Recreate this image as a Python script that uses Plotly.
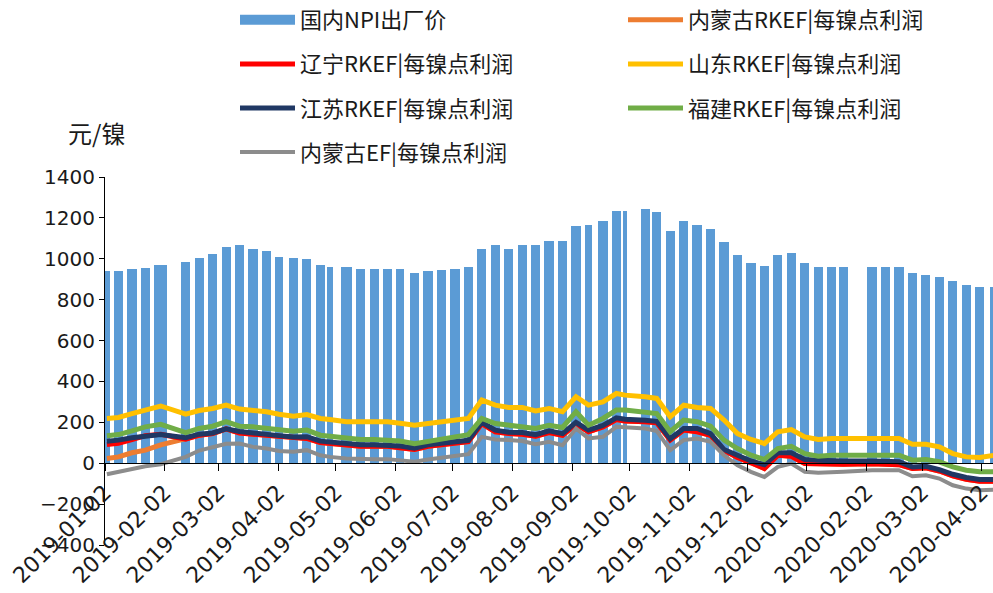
import pandas as pd
import plotly.graph_objects as go

# ---- data (weekly trading blocks) ----
block_start = [
    "2019-01-02", "2019-01-07", "2019-01-14", "2019-01-21", "2019-01-28", "2019-02-11", "2019-02-18",
    "2019-02-25", "2019-03-04", "2019-03-11", "2019-03-18", "2019-03-25", "2019-04-01", "2019-04-08",
    "2019-04-15", "2019-04-22", "2019-04-28", "2019-05-05", "2019-05-13", "2019-05-20", "2019-05-27",
    "2019-06-03", "2019-06-10", "2019-06-17", "2019-06-24", "2019-07-01", "2019-07-08", "2019-07-15",
    "2019-07-22", "2019-07-29", "2019-08-05", "2019-08-12", "2019-08-19", "2019-08-26", "2019-09-02",
    "2019-09-09", "2019-09-16", "2019-09-23", "2019-09-29", "2019-10-08", "2019-10-14", "2019-10-21",
    "2019-10-28", "2019-11-04", "2019-11-11", "2019-11-18", "2019-11-25", "2019-12-02", "2019-12-09",
    "2019-12-16", "2019-12-23", "2019-12-30", "2020-01-06", "2020-01-13", "2020-01-19", "2020-02-03",
    "2020-02-10", "2020-02-17", "2020-02-24", "2020-03-02", "2020-03-09", "2020-03-16", "2020-03-23",
    "2020-03-30", "2020-04-07",
]
block_end = [
    "2019-01-04", "2019-01-11", "2019-01-18", "2019-01-25", "2019-02-03", "2019-02-15", "2019-02-22",
    "2019-03-01", "2019-03-08", "2019-03-15", "2019-03-22", "2019-03-29", "2019-04-04", "2019-04-12",
    "2019-04-19", "2019-04-26", "2019-04-30", "2019-05-10", "2019-05-17", "2019-05-24", "2019-05-31",
    "2019-06-06", "2019-06-14", "2019-06-21", "2019-06-28", "2019-07-05", "2019-07-12", "2019-07-19",
    "2019-07-26", "2019-08-02", "2019-08-09", "2019-08-16", "2019-08-23", "2019-08-30", "2019-09-06",
    "2019-09-12", "2019-09-20", "2019-09-27", "2019-09-30", "2019-10-12", "2019-10-18", "2019-10-25",
    "2019-11-01", "2019-11-08", "2019-11-15", "2019-11-22", "2019-11-29", "2019-12-06", "2019-12-13",
    "2019-12-20", "2019-12-27", "2020-01-03", "2020-01-10", "2020-01-17", "2020-01-23", "2020-02-07",
    "2020-02-14", "2020-02-21", "2020-02-28", "2020-03-06", "2020-03-13", "2020-03-20", "2020-03-27",
    "2020-04-03", "2020-04-10",
]
npi_price = [
    942, 942, 950, 955, 970, 985, 1003, 1025, 1060, 1065, 1048, 1040, 1011, 1005, 1000, 970, 962,
    960, 950, 950, 950, 950, 932, 940, 945, 950, 962, 1050, 1065, 1048, 1068, 1068, 1089, 1089,
    1160, 1166, 1187, 1236, 1236, 1245, 1230, 1138, 1187, 1166, 1145, 1080, 1020, 980, 965, 1020,
    1030, 980, 962, 962, 962, 962, 962, 962, 930, 921, 910, 890, 870, 861, 861,
]
nmg_rkef = [
    23, 31, 51, 64, 90, 118, 137, 145, 168, 148, 142, 137, 129, 121, 121, 101, 96, 85, 83, 83, 83,
    76, 67, 83, 91, 100, 105, 194, 154, 145, 142, 132, 150, 137, 191, 154, 178, 214, 207, 203, 198,
    113, 162, 154, 137, 64, 28, 2, -26, 39, 34, -2, -5, -7, -5, -2, -7, -7, -26, -22, -38, -62, -78,
    -88, -88,
]
liaoning_rkef = [
    92, 98, 115, 135, 142, 118, 137, 145, 168, 148, 142, 137, 129, 121, 121, 101, 96, 85, 83, 83, 83,
    76, 67, 83, 91, 100, 105, 194, 154, 145, 142, 132, 150, 137, 191, 154, 178, 214, 207, 203, 198,
    113, 162, 154, 137, 64, 28, 2, -26, 39, 34, -2, -5, -7, -5, -2, -7, -7, -26, -22, -38, -62, -78,
    -88, -88,
]
shandong_rkef = [
    219, 224, 243, 260, 280, 240, 258, 268, 284, 265, 260, 252, 240, 230, 238, 219, 214, 203, 203,
    203, 203, 196, 186, 194, 203, 211, 219, 309, 284, 273, 273, 256, 268, 252, 325, 284, 300, 341,
    333, 325, 317, 227, 284, 273, 268, 211, 145, 116, 96, 154, 165, 129, 116, 121, 121, 121, 116,
    121, 93, 93, 80, 47, 31, 28, 39,
]
jiangsu_rkef = [
    108, 113, 125, 130, 140, 125, 142, 148, 168, 155, 150, 145, 135, 128, 130, 108, 103, 92, 90, 90,
    88, 84, 74, 90, 98, 106, 112, 200, 162, 152, 150, 140, 158, 145, 200, 162, 185, 222, 215, 210,
    205, 120, 170, 170, 145, 67, 39, 11, -7, 51, 51, 18, 15, 11, 11, 11, 7, 7, -18, -15, -31, -54,
    -70, -80, -80,
]
fujian_rkef = [
    134, 140, 158, 178, 190, 150, 170, 181, 203, 181, 178, 170, 162, 157, 162, 137, 132, 121, 116,
    116, 113, 109, 96, 109, 121, 129, 140, 219, 194, 186, 178, 170, 186, 175, 252, 186, 219, 260,
    260, 252, 243, 154, 211, 203, 181, 113, 72, 39, 18, 72, 83, 47, 34, 39, 39, 44, 39, 39, 15, 18,
    7, -18, -34, -42, -42,
]
nmg_ef = [
    -54, -42, -29, -15, -5, 31, 62, 80, 95, 96, 80, 72, 60, 56, 64, 39, 31, 23, 20, 20, 20, 16, 7,
    18, 28, 34, 44, 129, 116, 113, 109, 93, 105, 88, 170, 121, 129, 178, 175, 170, 158, 64, 113,
    121, 105, 39, -10, -42, -67, -18, -2, -42, -47, -42, -42, -34, -34, -34, -64, -59, -75, -108,
    -124, -132, -129,
]
month_ticks = [
    "2019-01-02", "2019-02-02", "2019-03-02", "2019-04-02", "2019-05-02", "2019-06-02", "2019-07-02",
    "2019-08-02", "2019-09-02", "2019-10-02", "2019-11-02", "2019-12-02", "2020-01-02", "2020-02-02",
    "2020-03-02", "2020-04-02",
]
y_ticks = [-400, -200, 0, 200, 400, 600, 800, 1000, 1200, 1400]

# ---- geometry derived from the dates ----
starts = pd.to_datetime(block_start)
ends = pd.to_datetime(block_end)
centers = starts + (ends - starts) / 2
widths = [((e - s).total_seconds() + 0.8 * 86400) * 1000 for s, e in zip(starts, ends)]
xc = [c.strftime("%Y-%m-%d %H:%M:%S") for c in centers]

CJK = "Noto Sans CJK SC"
TXT = "#1a1a1a"

# plot area in pixels
L, R, T, B = 105, 993, 177, 545
W, H = R - L, B - T

fig = go.Figure()
fig.add_trace(go.Bar(x=xc, y=npi_price, width=widths, marker=dict(color="#5B9BD5", line=dict(width=0)),
                     name="国内NPI出厂价", showlegend=False))
# legend proxy for the bar series (wide swatch)
fig.add_trace(go.Scatter(x=[None], y=[None], mode="lines", line=dict(color="#5B9BD5", width=14),
                         name="国内NPI出厂价", legend="legend", legendgroup="a", legendrank=1))

series = [
    ("内蒙古RKEF|每镍点利润", nmg_rkef, "#ED7D31", 5, "legend2", "b", 1),
    ("辽宁RKEF|每镍点利润", liaoning_rkef, "#FF0000", 5, "legend", "c", 2),
    ("山东RKEF|每镍点利润", shandong_rkef, "#FFC000", 5, "legend2", "d", 2),
    ("江苏RKEF|每镍点利润", jiangsu_rkef, "#203864", 5, "legend", "e", 3),
    ("福建RKEF|每镍点利润", fujian_rkef, "#70AD47", 5, "legend2", "f", 3),
    ("内蒙古EF|每镍点利润", nmg_ef, "#8C8C8C", 4, "legend", "g", 4),
]
for name, vals, color, w, lg, grp, rank in series:
    fig.add_trace(go.Scatter(x=xc, y=vals, mode="lines", name=name,
                             line=dict(color=color, width=w), legend=lg, legendgroup=grp,
                             legendrank=rank))

legend_common = dict(
    orientation="v", yanchor="top", xanchor="left", font=dict(family=CJK, size=22, color=TXT),
    bgcolor="rgba(0,0,0,0)", tracegroupgap=12.5, itemwidth=55, traceorder="grouped",
)
fig.update_layout(
    width=993, height=593,
    margin=dict(l=L, r=993 - R, t=T, b=593 - B, autoexpand=False),
    plot_bgcolor="white", paper_bgcolor="white",
    bargap=0,
    legend=dict(x=(235 - L) / W, y=(B + 1) / H, **legend_common),
    legend2=dict(x=(623 - L) / W, y=(B + 1) / H, **legend_common),
    xaxis=dict(
        type="date", range=["2019-01-02", "2020-04-07 22:00"],
        tickvals=month_ticks, ticktext=month_ticks, tickangle=-45,
        ticks="outside", ticklen=7, tickcolor="black", tickwidth=1,
        showline=True, linecolor="black", linewidth=1, showgrid=False, zeroline=False,
        anchor="free", position=(B - 463) / H,
        tickfont=dict(family="DejaVu Sans", size=22, color=TXT),
    ),
    yaxis=dict(
        range=[-400, 1400], tickvals=y_ticks, ticks="outside", ticklen=5, tickcolor="black",
        showline=True, linecolor="black", linewidth=1, showgrid=False, zeroline=False,
        tickfont=dict(family="DejaVu Sans", size=20, color=TXT),
    ),
    annotations=[dict(text="元/镍", x=(96 - L) / W, y=(B - 133) / H, xref="paper", yref="paper",
                      xanchor="center", yanchor="middle", showarrow=False,
                      font=dict(family=CJK, size=24, color=TXT))],
)

fig.write_html("out.html", config={"displayModeBar": False},
               post_script="document.body.style.margin='0';document.body.style.overflow='hidden';")
